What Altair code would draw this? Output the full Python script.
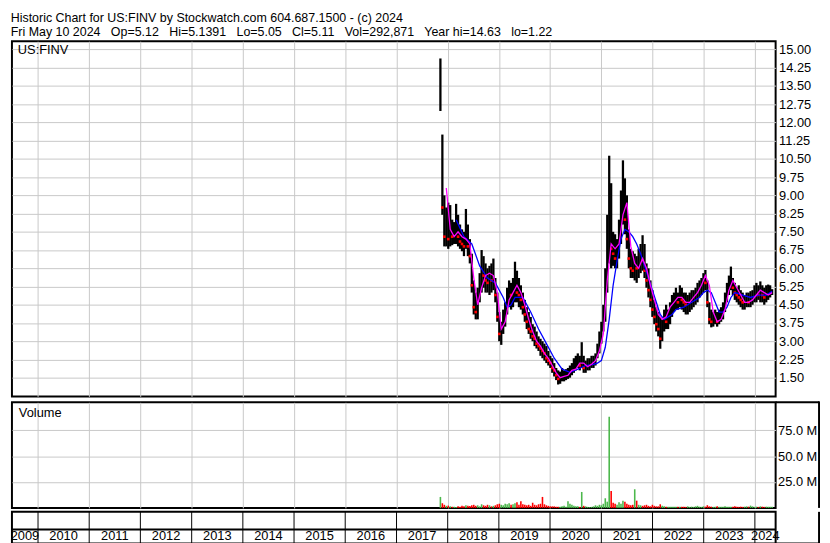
import altair as alt
import pandas as pd

TITLE_LINE = "Historic Chart for US:FINV by Stockwatch.com 604.687.1500 - (c) 2024"
SUB_LINE = "Fri May 10 2024   Op=5.12   Hi=5.1391   Lo=5.05   Cl=5.11   Vol=292,871   Year hi=14.63   lo=1.22"
SYMBOL = "US:FINV"
VOLUME_LABEL = "Volume"

YEARS = [2009, 2010, 2011, 2012, 2013, 2014, 2015, 2016, 2017, 2018, 2019, 2020, 2021, 2022, 2023, 2024]
PRICE_TICKS = [1.50, 2.25, 3.00, 3.75, 4.50, 5.25, 6.00, 6.75, 7.50, 8.25, 9.00, 9.75,
               10.50, 11.25, 12.00, 12.75, 13.50, 14.25, 15.00]
VOL_TICKS_M = [25, 50, 75]

# bi-weekly bars starting at the listing date
BAR_START = "2017-11-10"
HI = [14.63, 11.50, 9.00, 8.50, 8.70, 8.60, 8.00, 7.90, 8.65, 8.20,
      7.80, 7.60, 7.50, 8.44, 7.80, 7.20, 6.60, 5.50, 5.00, 5.20,
      5.80, 6.75, 6.50, 6.20, 6.00, 6.10, 6.20, 6.40, 5.60, 5.00,
      4.20, 3.80, 4.30, 4.60, 5.20, 5.50, 5.40, 5.60, 6.27, 5.90,
      5.60, 5.30, 5.00, 4.70, 4.40, 4.20, 4.00, 3.70, 3.60, 3.40,
      3.20, 3.10, 3.00, 2.90, 2.80, 2.60, 2.40, 2.30, 2.10, 1.90,
      1.80, 1.75, 1.90, 1.80, 1.85, 1.90, 2.00, 2.10, 2.30, 2.40,
      2.50, 2.40, 2.96, 2.40, 2.20, 2.30, 2.30, 2.40, 2.40, 2.50,
      2.90, 3.40, 3.80, 4.50, 6.00, 8.20, 10.63, 9.50, 7.50, 7.40,
      7.20, 8.00, 9.20, 10.44, 9.70, 9.00, 7.60, 6.80, 6.70, 6.60,
      6.50, 6.80, 7.00, 7.36, 7.00, 6.20, 6.00, 5.50, 5.10, 4.70,
      4.40, 4.20, 4.00, 3.90, 4.30, 4.50, 4.30, 4.60, 4.90, 5.00,
      5.20, 5.00, 5.30, 5.20, 5.00, 5.00, 4.90, 5.00, 5.10, 5.10,
      5.20, 5.40, 5.50, 5.60, 5.80, 5.93, 5.50, 4.60, 4.30, 4.20,
      4.30, 4.20, 4.30, 4.40, 4.60, 5.00, 5.40, 5.70, 6.07, 5.60,
      5.40, 5.20, 5.30, 5.10, 5.00, 4.90, 5.00, 5.00, 5.06, 5.10,
      5.30, 5.40, 5.30, 5.46, 5.30, 5.20, 5.30, 5.33, 5.30, 5.14]
LO = [12.47, 8.20, 6.90, 6.90, 6.80, 6.90, 6.95, 7.00, 7.00, 6.90,
      6.80, 6.70, 6.50, 6.80, 6.50, 6.20, 5.00, 4.10, 3.90, 3.90,
      4.60, 5.00, 5.20, 5.00, 5.00, 4.90, 5.00, 5.10, 4.60, 3.80,
      3.00, 2.85, 3.30, 3.60, 4.10, 4.40, 4.30, 4.40, 4.60, 4.60,
      4.40, 4.30, 4.10, 3.80, 3.50, 3.30, 3.10, 3.00, 2.80, 2.70,
      2.60, 2.40, 2.30, 2.20, 2.10, 2.00, 1.90, 1.70, 1.55, 1.40,
      1.22, 1.25, 1.35, 1.35, 1.40, 1.45, 1.50, 1.60, 1.70, 1.80,
      1.90, 1.80, 1.90, 1.70, 1.70, 1.80, 1.80, 1.90, 1.90, 2.00,
      2.30, 2.50, 2.90, 3.40, 3.80, 5.00, 6.20, 6.00, 6.10, 6.00,
      6.00, 6.40, 7.00, 7.80, 7.40, 6.80, 6.00, 5.60, 5.60, 5.50,
      5.40, 5.60, 5.80, 5.90, 5.60, 5.20, 4.80, 4.40, 4.00, 3.70,
      3.40, 3.20, 2.69, 3.00, 3.40, 3.50, 3.50, 3.70, 4.00, 4.20,
      4.30, 4.30, 4.40, 4.30, 4.20, 4.10, 4.10, 4.20, 4.30, 4.40,
      4.50, 4.60, 4.80, 4.90, 5.00, 5.10, 4.40, 3.70, 3.57, 3.60,
      3.70, 3.60, 3.70, 3.80, 3.90, 4.20, 4.60, 4.90, 5.10, 4.90,
      4.70, 4.60, 4.50, 4.40, 4.30, 4.30, 4.40, 4.40, 4.40, 4.50,
      4.60, 4.60, 4.70, 4.60, 4.60, 4.50, 4.60, 4.70, 4.80, 4.90]
CL = [12.55, 8.50, 7.30, 7.40, 7.20, 7.50, 7.30, 7.40, 7.60, 7.30,
      7.10, 7.00, 6.90, 7.60, 6.90, 6.50, 5.30, 4.40, 4.20, 4.60,
      5.40, 5.90, 5.70, 5.50, 5.40, 5.60, 5.50, 5.60, 4.90, 4.00,
      3.30, 3.40, 4.00, 4.20, 4.80, 5.00, 4.90, 5.00, 5.40, 5.00,
      4.90, 4.70, 4.40, 4.10, 3.80, 3.50, 3.40, 3.20, 3.10, 2.90,
      2.80, 2.70, 2.60, 2.50, 2.30, 2.20, 2.10, 1.90, 1.80, 1.60,
      1.45, 1.50, 1.55, 1.60, 1.60, 1.70, 1.80, 1.90, 2.00, 2.10,
      2.20, 2.00, 2.20, 1.90, 1.90, 2.00, 2.00, 2.10, 2.20, 2.30,
      2.70, 3.10, 3.60, 4.20, 5.50, 7.00, 7.50, 6.80, 6.60, 6.40,
      6.70, 7.50, 8.60, 9.00, 8.00, 7.20, 6.40, 6.00, 5.90, 6.10,
      6.00, 6.20, 6.40, 6.30, 5.90, 5.50, 5.10, 4.70, 4.30, 4.00,
      3.70, 3.50, 3.10, 3.60, 3.90, 3.80, 3.90, 4.20, 4.40, 4.60,
      4.70, 4.60, 4.80, 4.70, 4.60, 4.50, 4.60, 4.70, 4.80, 4.90,
      5.00, 5.10, 5.30, 5.40, 5.50, 5.40, 4.60, 3.90, 3.80, 3.90,
      3.90, 3.80, 4.00, 4.10, 4.40, 4.80, 5.10, 5.40, 5.50, 5.20,
      5.00, 4.90, 4.80, 4.70, 4.60, 4.60, 4.70, 4.60, 4.80, 4.90,
      5.00, 5.10, 4.90, 5.10, 4.90, 4.80, 5.00, 5.10, 5.10, 5.11]
VOL_M = [10.6, 4.5, 3.0, 2.0, 2.2, 1.5, 1.0, 1.2, 0.8, 1.5,
         1.2, 2.0, 1.5, 2.5, 2.0, 1.8, 2.5, 3.0, 2.0, 2.5,
         1.5, 3.5, 2.5, 2.0, 3.0, 2.5, 1.5, 2.0, 2.5, 3.5,
         4.0, 3.0, 2.5, 4.0, 3.5, 4.5, 3.0, 3.5, 4.5, 5.5,
         3.0, 6.5, 3.5, 3.0, 2.5, 3.0, 2.0, 5.0, 3.0, 2.5,
         3.5, 4.0, 10.6, 3.5, 2.5, 2.0, 1.5, 1.5, 1.5, 1.0,
         1.0, 1.0, 1.5, 2.0, 1.0, 6.5, 4.0, 3.0, 2.0, 1.5,
         1.5, 1.0, 15.4, 2.0, 1.5, 1.0, 0.8, 1.0, 1.5, 2.5,
         2.0, 3.0, 2.5, 4.0, 9.3, 6.0, 88.0, 16.4, 5.0, 4.0,
         3.0, 5.5, 4.0, 7.0, 6.0, 4.0, 3.0, 2.5, 3.0, 18.0,
         7.0, 3.0, 2.5, 2.0, 2.5, 3.0, 2.0, 1.5, 3.0, 2.0,
         1.5, 1.5, 3.5, 2.0, 1.5, 1.0, 1.0, 1.2, 1.0, 1.2,
         1.0, 1.0, 1.2, 1.0, 1.2, 1.0, 1.5, 1.0, 1.2, 1.0,
         1.5, 2.0, 1.2, 1.0, 1.5, 1.2, 2.6, 1.5, 1.2, 1.0,
         1.2, 1.5, 1.0, 1.2, 1.0, 1.5, 1.2, 1.0, 1.2, 1.0,
         1.5, 1.2, 1.0, 1.2, 1.0, 1.2, 1.5, 1.2, 2.2, 1.5,
         1.0, 1.2, 1.0, 1.5, 1.2, 1.0, 1.2, 1.0, 1.2, 1.0]

# moving averages (bar index -> value)
MA_FAST_BAR = list(range(3, 170, 2))
MA_FAST = [9.3, 7.6, 7.3, 7.5, 7.3, 7.2, 7.0, 5.6, 4.5, 5.2,
           5.7, 5.8, 5.7, 5.0, 3.5, 3.8, 4.7, 5.0, 5.3, 5.0,
           4.5, 3.9, 3.4, 3.0, 2.8, 2.5, 2.3, 2.0, 1.7, 1.5,
           1.55, 1.6, 1.8, 1.85, 2.1, 2.1, 1.95, 2.05, 2.2, 2.6,
           3.3, 5.5, 7.0, 6.8, 7.0, 8.2, 8.7, 6.9, 6.2, 6.0,
           6.4, 6.0, 5.3, 4.7, 4.1, 3.9, 4.0, 4.4, 4.6, 4.8,
           4.8, 4.6, 4.6, 4.8, 5.0, 5.3, 5.7, 5.3, 4.2, 3.8,
           3.9, 4.3, 5.1, 5.5, 5.2, 4.9, 4.6, 4.6, 4.7, 4.9,
           5.1, 5.0, 4.9, 5.0]
MA_SLOW_BAR = [8, 12, 16, 20, 24, 28, 32, 34, 36, 38,
               42, 46, 50, 54, 58, 62, 66, 70, 74, 78,
               80, 82, 84, 86, 88, 90, 92, 94, 96, 98,
               100, 102, 104, 106, 108, 110, 112, 114, 116, 118,
               120, 124, 128, 132, 134, 136, 138, 140, 142, 144,
               146, 148, 150, 154, 158, 162, 166, 169]
MA_SLOW = [8.0, 7.3, 7.0, 6.1, 5.6, 5.4, 4.8, 4.4, 4.5, 4.8,
           4.8, 4.2, 3.5, 2.9, 2.3, 1.85, 1.72, 1.85, 2.0, 2.05,
           2.1, 2.2, 2.75, 3.9, 5.3, 6.3, 7.2, 7.6, 7.5, 7.3,
           7.0, 6.6, 6.1, 5.6, 5.1, 4.6, 4.1, 3.9, 4.0, 4.1,
           4.3, 4.4, 4.6, 4.8, 5.0, 5.1, 5.0, 4.6, 4.2, 4.2,
           4.4, 4.8, 5.0, 4.9, 4.8, 4.9, 4.9, 5.05]

# ---------------------------------------------------------------- layout
W = 774
H_PRICE = 360
H_VOL = 107
H_STRIP = 32
RIGHT_BOX = 44          # width of the label column boxed in below the price panel
FONT = "Liberation Sans"
GRID = "#c8c8c8"
X_START = pd.Timestamp("2009-06-29")
X_END = pd.Timestamp("2024-05-28")
X_DOMAIN = [alt.DateTime(year=2009, month=6, date=29), alt.DateTime(year=2024, month=5, date=28)]

dates = pd.date_range(BAR_START, periods=len(HI), freq="14D")
bars = pd.DataFrame({"date": dates, "hi": HI, "lo": LO, "close": CL,
                     "vol": [v * 1e6 for v in VOL_M], "zero": 0.0})
prev = [None] + CL[:-1]
bars["dir"] = ["down" if (p is not None and c < p) else "up" for c, p in zip(CL, prev)]

fast_df = pd.DataFrame({"date": [dates[i] for i in MA_FAST_BAR], "ma": MA_FAST})
slow_df = pd.DataFrame({"date": [dates[i] for i in MA_SLOW_BAR], "ma": MA_SLOW})

year_bounds = pd.DataFrame({"date": [pd.Timestamp(f"{y}-01-01") for y in YEARS[1:]]})
mids = []
for y in YEARS:
    s = max(pd.Timestamp(f"{y}-01-01"), X_START)
    e = min(pd.Timestamp(f"{y + 1}-01-01"), X_END)
    mids.append(s + (e - s) / 2)
year_labels = pd.DataFrame({"mid": mids, "year": [str(y) for y in YEARS]})

grid_values = [alt.DateTime(year=y, month=1, date=1) for y in YEARS[1:]]
LABEL_STYLE = dict(labelFont=FONT, labelFontSize=13, labelColor="black")
one = pd.DataFrame({"k": [0]})


def xenc(field="date"):
    return alt.X(f"{field}:T", scale=alt.Scale(domain=X_DOMAIN),
                 axis=alt.Axis(values=grid_values, grid=True, gridColor=GRID, gridWidth=1,
                               labels=False, ticks=False, domain=False, title=None))


ysc = alt.Scale(domain=[0.73, 15.34], nice=False, zero=False)


def price_axis():
    return alt.Axis(orient="right", values=PRICE_TICKS, format=".2f", grid=True, gridColor=GRID,
                    gridWidth=1, ticks=False, domain=False, labelPadding=3, title=None, **LABEL_STYLE)


bar_layer = alt.Chart(bars).mark_rule(color="black", strokeWidth=2.3).encode(
    x=xenc(), y=alt.Y("lo:Q", scale=ysc, axis=price_axis()), y2="hi:Q")
tick_layer = alt.Chart(bars).transform_filter("datum.dir == 'down'").mark_square(
    color="#ff0000", size=7, opacity=1).encode(
    x=xenc(), y=alt.Y("close:Q", scale=ysc, axis=price_axis()))
slow_layer = alt.Chart(slow_df).mark_line(color="#0000ff", strokeWidth=1.3).encode(
    x=xenc(), y=alt.Y("ma:Q", scale=ysc, axis=price_axis()))
fast_layer = alt.Chart(fast_df).mark_line(color="#ff00ff", strokeWidth=1.3).encode(
    x=xenc(), y=alt.Y("ma:Q", scale=ysc, axis=price_axis()))
sym_layer = alt.Chart(pd.DataFrame({"t": [SYMBOL]})).mark_text(
    align="left", baseline="top", font=FONT, fontSize=13, color="black").encode(
    x=alt.value(6), y=alt.value(3), text="t:N")

price = alt.layer(bar_layer, tick_layer, slow_layer, fast_layer, sym_layer).properties(
    width=W, height=H_PRICE)

vsc = alt.Scale(domain=[0, 102e6], nice=False)
vol_axis = alt.Axis(orient="right", values=[v * 1e6 for v in VOL_TICKS_M],
                    labelExpr="format(datum.value / 1000000, '.1f') + ' M'",
                    grid=True, gridColor=GRID, gridWidth=1, ticks=False, domain=False,
                    labelPadding=2, title=None, **LABEL_STYLE)
vol_layer = alt.Chart(bars).mark_rule(strokeWidth=1.6).encode(
    x=xenc(), y=alt.Y("vol:Q", scale=vsc, axis=vol_axis), y2="zero:Q",
    color=alt.Color("dir:N", scale=alt.Scale(domain=["up", "down"], range=["#4cb84c", "#ff0000"]),
                    legend=None))
vol_text = alt.Chart(pd.DataFrame({"t": [VOLUME_LABEL]})).mark_text(
    align="left", baseline="top", font=FONT, fontSize=13, color="black").encode(
    x=alt.value(7), y=alt.value(5), text="t:N")
vol_box_v = alt.Chart(one).mark_rule(color="black", strokeWidth=2).encode(
    x=alt.value(W + RIGHT_BOX), y=alt.value(-1), y2=alt.value(H_VOL))
vol_box_h = alt.Chart(one).mark_rule(color="black", strokeWidth=2).encode(
    x=alt.value(W), x2=alt.value(W + RIGHT_BOX), y=alt.value(0))
volume = alt.layer(vol_layer, vol_text, vol_box_v, vol_box_h).properties(width=W, height=H_VOL)

strip_x = alt.Scale(domain=X_DOMAIN)
strip_rules = alt.Chart(year_bounds).mark_rule(color="black", strokeWidth=1).encode(
    x=alt.X("date:T", scale=strip_x, axis=None), y=alt.value(0), y2=alt.value(H_STRIP))
strip_line = alt.Chart(one).mark_rule(color="black", strokeWidth=2).encode(
    x=alt.value(0), x2=alt.value(W), y=alt.value(18))
strip_text = alt.Chart(year_labels).mark_text(
    font=FONT, fontSize=13, color="black", baseline="middle", align="center").encode(
    x=alt.X("mid:T", scale=strip_x, axis=None), y=alt.value(25), text="year:N")
strip_box_v = alt.Chart(one).mark_rule(color="black", strokeWidth=2).encode(
    x=alt.value(W + RIGHT_BOX), y=alt.value(0), y2=alt.value(H_STRIP))
strip_box_h = alt.Chart(one).mark_rule(color="black", strokeWidth=2).encode(
    x=alt.value(W), x2=alt.value(W + RIGHT_BOX), y=alt.value(H_STRIP))
strip = alt.layer(strip_rules, strip_line, strip_text, strip_box_v, strip_box_h).properties(
    width=W, height=H_STRIP)

lower = alt.vconcat(volume, strip, spacing=0)
chart = alt.vconcat(price, lower, spacing=2).properties(
    title=alt.TitleParams(
        text=TITLE_LINE, subtitle=SUB_LINE.replace("   ", "\u00a0\u00a0 "), anchor="start",
        font=FONT, fontSize=12.6, fontWeight="normal", color="black",
        subtitleFont=FONT, subtitleFontSize=12.6, subtitleColor="black",
        subtitlePadding=1, offset=2, dx=1),
    padding={"left": 1, "top": 0, "right": 1, "bottom": 0},
    background="white",
).configure_view(stroke="black", strokeWidth=2)

chart.save("out.html", embed_options={"renderer": "svg", "actions": False})
